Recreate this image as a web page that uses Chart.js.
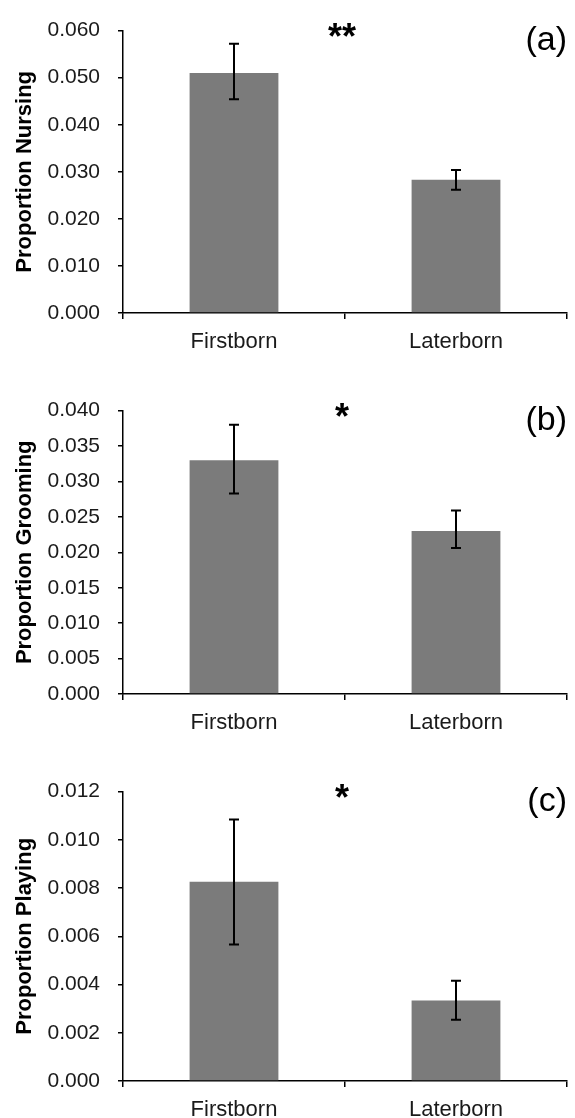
<!DOCTYPE html>
<html>
<head>
<meta charset="utf-8">
<script src="https://cdn.jsdelivr.net/npm/chart.js@4.4.1/dist/chart.umd.min.js"></script>
<style>
  html, body { margin: 0; padding: 0; background: #fff; overflow: hidden; width: 575px; height: 1118px; }
  .panel { position: absolute; left: 0; width: 575px; }
  canvas { display: block; }
</style>
</head>
<body>
<div class="panel" id="pa" style="top:0px;height:358px;"><canvas id="ca" width="575" height="358"></canvas></div>
<div class="panel" id="pb" style="top:380px;height:359px;"><canvas id="cb" width="575" height="359"></canvas></div>
<div class="panel" id="pc" style="top:761px;height:365px;"><canvas id="cc" width="575" height="365"></canvas></div>
<script>
// ---- Data ----
const categories = ['Firstborn', 'Laterborn'];

const nursing = [0.0510, 0.0283];
const nursingErrLow = [0.0454, 0.0262];
const nursingErrHigh = [0.0572, 0.0304];

const grooming = [0.0330, 0.0230];
const groomingErrLow = [0.0283, 0.0206];
const groomingErrHigh = [0.0380, 0.0259];

const playing = [0.00826, 0.00334];
const playingErrLow = [0.00566, 0.00254];
const playingErrHigh = [0.01084, 0.00416];

const nursingTicks = { min: 0, max: 0.060, step: 0.010 };
const groomingTicks = { min: 0, max: 0.040, step: 0.005 };
const playingTicks = { min: 0, max: 0.012, step: 0.002 };

const panelLabels = ['(a)', '(b)', '(c)'];
const sigMarks = ['**', '*', '*'];
const yTitles = ['Proportion Nursing', 'Proportion Grooming', 'Proportion Playing'];

// ---- Plugin for error bars and annotations ----
const annotPlugin = {
  id: 'annot',
  afterDatasetsDraw(chart, args, opts) {
    const ctx = chart.ctx;
    const x = chart.scales.x, y = chart.scales.y;
    const meta = chart.getDatasetMeta(0);
    ctx.save();
    ctx.strokeStyle = '#000';
    ctx.lineWidth = 2;
    meta.data.forEach((bar, i) => {
      const cx = bar.x;
      const yLo = y.getPixelForValue(opts.low[i]);
      const yHi = y.getPixelForValue(opts.high[i]);
      const cap = 5;
      ctx.beginPath();
      ctx.moveTo(cx, yLo); ctx.lineTo(cx, yHi);
      ctx.moveTo(cx - cap, yLo); ctx.lineTo(cx + cap, yLo);
      ctx.moveTo(cx - cap, yHi); ctx.lineTo(cx + cap, yHi);
      ctx.stroke();
    });
    const area = chart.chartArea;
    const midX = (x.getPixelForValue(0) + x.getPixelForValue(1)) / 2 - 3;
    ctx.fillStyle = '#000';
    ctx.textBaseline = 'alphabetic';
    ctx.textAlign = 'center';
    ctx.font = 'bold 36px "Liberation Sans", Arial, sans-serif';
    ctx.fillText(opts.sig, midX, area.top + 18);
    ctx.textAlign = 'right';
    ctx.font = '34px "Liberation Sans", Arial, sans-serif';
    ctx.fillText(opts.label, area.right, area.top + 19);
    ctx.restore();
  }
};

function makeChart(canvasId, values, low, high, ticks, title, label, sig) {
  const font = '"Liberation Sans", Arial, sans-serif';
  return new Chart(document.getElementById(canvasId), {
    type: 'bar',
    data: {
      labels: categories,
      datasets: [{
        data: values,
        backgroundColor: '#7b7b7b',
        borderWidth: 0,
        barPercentage: 0.4,
        categoryPercentage: 1.0
      }]
    },
    options: {
      responsive: false,
      animation: false,
      events: [],
      layout: { padding: { top: 21, right: 8, left: 0, bottom: 0 } },
      plugins: {
        legend: { display: false },
        tooltip: { enabled: false },
        annot: { low: low, high: high, label: label, sig: sig }
      },
      scales: {
        x: {
          offset: true,
          grid: { display: true, drawOnChartArea: false, offset: true, tickLength: 6, color: '#000', lineWidth: 1.5 },
          border: { display: true, color: '#000', width: 1.5 },
          ticks: { color: '#1a1a1a', font: { family: font, size: 22 }, padding: 10 },
          afterFit(scale) { scale.height = 45; }
        },
        y: {
          min: ticks.min,
          max: ticks.max,
          grid: { display: true, drawOnChartArea: false, tickLength: 5, color: '#000', lineWidth: 1.5 },
          border: { display: true, color: '#000', width: 1.5 },
          ticks: {
            stepSize: ticks.step,
            color: '#1a1a1a',
            font: { family: font, size: 21 },
            padding: 18,
            callback: (v) => Number(v).toFixed(3)
          },
          title: {
            display: true,
            text: title,
            color: '#000',
            font: { family: font, size: 22, weight: 'bold' },
            padding: { top: 12, bottom: 0 }
          },
          afterFit(scale) { scale.width = 123; }
        }
      }
    },
    plugins: [annotPlugin]
  });
}

makeChart('ca', nursing, nursingErrLow, nursingErrHigh, nursingTicks, yTitles[0], panelLabels[0], sigMarks[0]);
makeChart('cb', grooming, groomingErrLow, groomingErrHigh, groomingTicks, yTitles[1], panelLabels[1], sigMarks[1]);
makeChart('cc', playing, playingErrLow, playingErrHigh, playingTicks, yTitles[2], panelLabels[2], sigMarks[2]);
</script>
</body>
</html>
